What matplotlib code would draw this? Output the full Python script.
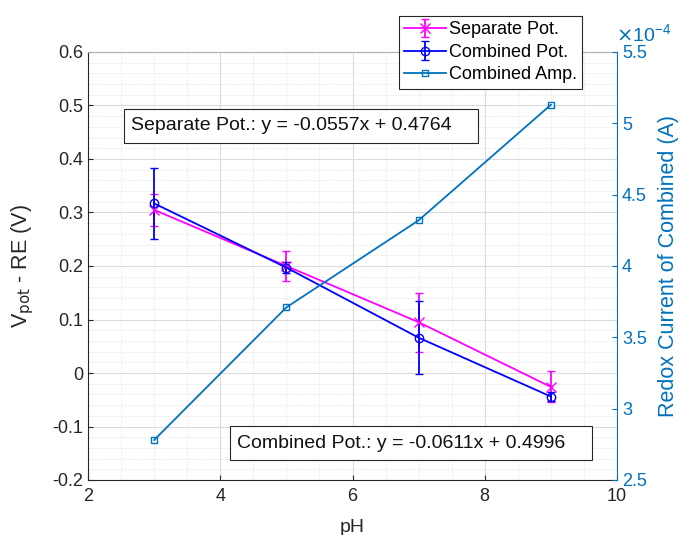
import numpy as np
import matplotlib
matplotlib.use('Agg')
import matplotlib.pyplot as plt
from matplotlib.ticker import FuncFormatter, MultipleLocator

plt.rcParams['font.family'] = ['Liberation Sans', 'DejaVu Sans']

ph = [3, 5, 7, 9]
sep_pot = [0.305, 0.200, 0.095, -0.026]
sep_err = [0.030, 0.028, 0.055, 0.029]
comb_pot = [0.317, 0.197, 0.066, -0.044]
comb_err = [0.067, 0.010, 0.068, 0.008]
comb_amp = [2.78e-4, 3.71e-4, 4.32e-4, 5.13e-4]

sep_fit = "Separate Pot.: y = -0.0557x + 0.4764"
comb_fit = "Combined Pot.: y = -0.0611x + 0.4996"

amp_color = '#0072BD'
dark = '#262626'

fig = plt.figure(figsize=(6.79, 5.35), dpi=100)
ax = fig.add_axes([88/679, 1-480/535, (617-88)/679, (480-52)/535])

h1 = ax.errorbar(ph, sep_pot, yerr=sep_err, color='#FF00FF', marker='x', markersize=7,
                 capsize=3, lw=1.3, elinewidth=1.3, label='Separate Pot.')
h2 = ax.errorbar(ph, comb_pot, yerr=comb_err, color='#0000FF', marker='o', markersize=6,
                 mfc='none', capsize=3, lw=1.3, elinewidth=1.3, label='Combined Pot.')

ax.set_xlim(2, 10)
ax.set_ylim(-0.2, 0.6)
ax.xaxis.set_major_locator(MultipleLocator(2))
ax.xaxis.set_minor_locator(MultipleLocator(0.5))
ax.yaxis.set_major_locator(MultipleLocator(0.1))
ax.yaxis.set_minor_locator(MultipleLocator(0.02))
ax.yaxis.set_major_formatter(FuncFormatter(lambda v, p: f'{round(v, 2):g}'))
ax.grid(True, which='major', color='#dcdcdc', lw=0.8)
ax.grid(True, which='minor', color='#dcdcdc', lw=0.6, ls=':')
ax.set_axisbelow(True)
ax.tick_params(which='both', direction='in', top=False, labelsize=13, colors=dark)
ax.tick_params(axis='x', pad=6)
ax.tick_params(which='minor', length=0)
ax.set_xlabel('pH', fontsize=14, color=dark, labelpad=10)
ax.set_ylabel(r'V$_{\rm pot}$ - RE (V)', fontsize=15.5, color=dark, labelpad=12)
for s in ['left', 'bottom']:
    ax.spines[s].set_color(dark)
ax.spines['top'].set_color('#b0b0b0')
ax.spines['right'].set_visible(False)

ax2 = ax.twinx()
h3, = ax2.plot(ph, comb_amp, color=amp_color, marker='s', markersize=5, mfc='none',
               lw=1.3, label='Combined Amp.')
ax2.set_ylim(2.5e-4, 5.5e-4)
ax2.yaxis.set_major_locator(MultipleLocator(0.5e-4))
ax2.yaxis.set_major_formatter(FuncFormatter(lambda v, p: f'{round(v*1e4, 2):g}'))
ax2.tick_params(direction='in', colors=amp_color, labelsize=13)
ax2.spines['right'].set_color(amp_color)
for s in ['left', 'top', 'bottom']:
    ax2.spines[s].set_visible(False)
ax2.set_ylabel('Redox Current of Combined (A)', color=amp_color, fontsize=15.5, labelpad=8)
fig.text(616/679, 1-45/535, r'$\times\mathregular{10^{-4}}$', color=amp_color,
         fontsize=14, ha='left', va='bottom')

# fit boxes, drawn a bit wider on the right like the original
def fit_box(x0, x1, yc, label):
    ax.text(x0, yc, label, transform=ax.transAxes, fontsize=14, va='center',
            color='#111111', zorder=6)
    r = plt.Rectangle((x0 - 7/529, yc - 17/428), x1 - x0 + 7/529, 34/428,
                      transform=ax.transAxes, fc='white', ec=dark, lw=0.8, zorder=5)
    ax.add_patch(r)

fit_box((131-88)/529, (478-88)/529, (480-126)/428, sep_fit)
fit_box((237-88)/529, (592-88)/529, (480-443)/428, comb_fit)

leg = ax2.legend([h1, h2, h3], ['Separate Pot.', 'Combined Pot.', 'Combined Amp.'],
                 loc='upper right', bbox_to_anchor=(582/679, 1-16/535), bbox_transform=fig.transFigure,
                 fontsize=13, frameon=True, fancybox=False, edgecolor=dark, framealpha=1,
                 handlelength=2.3, handletextpad=0.15, borderpad=0.3, labelspacing=0.3,
                 borderaxespad=0)
leg.get_frame().set_linewidth(0.8)

fig.savefig('out.png', dpi=100)
